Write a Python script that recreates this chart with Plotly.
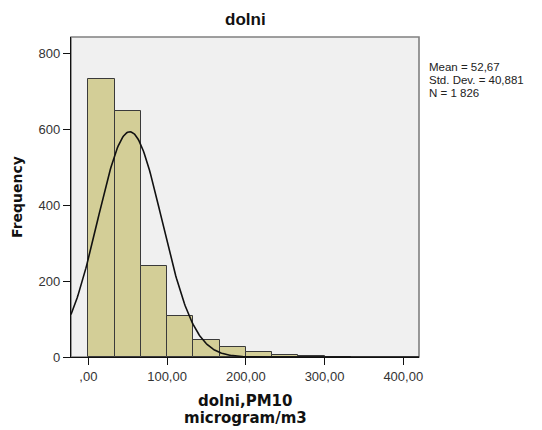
import numpy as np
import plotly.graph_objects as go

# Histogram of PM10 (microgram/m3) at station "dolni"
bin_starts = [0.0, 33.333, 66.667, 100.0, 133.333, 166.667, 200.0, 233.333, 266.667, 300.0]
bin_width = 33.333
frequencies = [733, 648, 241, 109, 45, 27, 14, 5, 3, 1]

mean_val = 52.67
std_val = 40.881
n_total = 1826

x_tickvals = [0, 100, 200, 300, 400]
x_ticktext = [",00", "100,00", "200,00", "300,00", "400,00"]
y_tickvals = [0, 200, 400, 600, 800]

stats_lines = ["Mean = 52,67", "Std. Dev. = 40,881", "N = 1 826"]

x_range = [-22, 420]
y_range = [0, 844]

centers = [s + bin_width / 2 for s in bin_starts]

# Fitted normal curve scaled to counts per bin
xs = np.linspace(x_range[0], x_range[1], 400)
ys = n_total * bin_width / (std_val * np.sqrt(2 * np.pi)) * np.exp(-0.5 * ((xs - mean_val) / std_val) ** 2)

fig = go.Figure()
fig.add_trace(go.Bar(
    x=centers, y=frequencies, width=[bin_width] * len(centers),
    marker=dict(color="#D3CE97", line=dict(color="#3a3a3a", width=1)),
    hoverinfo="x+y",
))
fig.add_trace(go.Scatter(
    x=xs, y=ys, mode="lines", line=dict(color="#111111", width=1.6),
    hoverinfo="skip",
))

tick_font = dict(family="Liberation Sans, Arial", size=13, color="#333333")

fig.update_layout(
    width=542, height=430,
    margin=dict(l=71, r=123, t=37, b=73),
    paper_bgcolor="white",
    plot_bgcolor="#F0F0F0",
    showlegend=False,
    bargap=0,
    xaxis=dict(
        range=x_range, tickvals=x_tickvals, ticktext=x_ticktext,
        showgrid=False, zeroline=False,
        showline=True, linecolor="#111111", linewidth=1.2,
        ticks="outside", ticklen=7, tickcolor="#111111", tickwidth=1.2,
        tickfont=tick_font,
    ),
    yaxis=dict(
        range=y_range, tickvals=y_tickvals,
        showgrid=False, zeroline=False,
        showline=True, linecolor="#111111", linewidth=1.2,
        ticks="outside", ticklen=7, tickcolor="#111111", tickwidth=1.2,
        tickfont=tick_font,
    ),
    shapes=[dict(
        type="rect", xref="paper", yref="paper", x0=0, x1=1, y0=0, y1=1,
        line=dict(color="#808080", width=1.6), fillcolor="rgba(0,0,0,0)",
        layer="below",
    )],
)

annotations = [
    dict(text="<b>dolni</b>", xref="paper", yref="paper", x=0.5, y=1, yshift=18,
         showarrow=False, font=dict(family="Liberation Sans, Arial", size=17, color="#111111"),
         xanchor="center", yanchor="middle"),
    dict(text="<b>Frequency</b>", xref="paper", yref="paper", x=0, xshift=-54, y=0.5,
         textangle=-90, showarrow=False,
         font=dict(family="DejaVu Sans", size=14, color="#111111"),
         xanchor="center", yanchor="middle"),
    dict(text="<b>dolni,PM10</b>", xref="paper", yref="paper", x=0.5, y=0, yshift=-44,
         showarrow=False, font=dict(family="DejaVu Sans", size=15, color="#111111"),
         xanchor="center", yanchor="middle"),
    dict(text="<b>microgram/m3</b>", xref="paper", yref="paper", x=0.5, y=0, yshift=-61,
         showarrow=False, font=dict(family="DejaVu Sans", size=15, color="#111111"),
         xanchor="center", yanchor="middle"),
]
for i, line in enumerate(stats_lines):
    annotations.append(dict(
        text=line, xref="paper", yref="paper", x=1, xshift=8, y=1, yshift=-30 - 13 * i,
        showarrow=False, xanchor="left", yanchor="middle",
        font=dict(family="Liberation Sans, Arial", size=11.5, color="#222222"),
    ))
fig.update_layout(annotations=annotations)

fig.write_html("out.html")
